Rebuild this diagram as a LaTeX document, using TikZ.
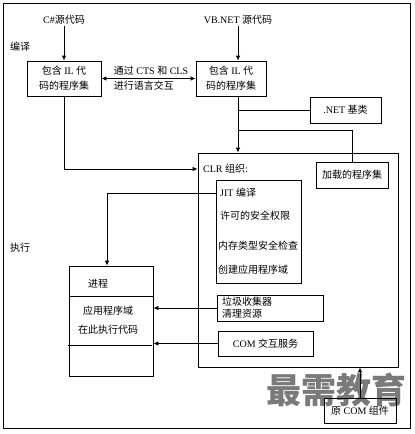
\documentclass[tikz,border=0pt]{standalone}
\usepackage{fontspec}
\setmainfont{Liberation Serif}
\newfontfamily\cjk{Noto Sans CJK SC}
\usetikzlibrary{arrows.meta}

\tikzset{
  box/.style={draw, line width=0.8pt, inner sep=0pt, align=center},
  txt/.style={font=\fontsize{10}{15}\selectfont, inner sep=1pt},
  arr/.style={-{Latex[length=5pt,width=4.5pt]}, line width=0.8pt},
  ln/.style={line width=0.8pt},
}

\begin{document}
\begin{tikzpicture}[x=1pt, y=-1pt, every node/.style={txt}]
			\useasboundingbox (0,0) rectangle (415,434);
			% watermark
			\node[text=black!52, font=\fontsize{35}{35}\selectfont\cjk\bfseries] (mark) at (336,390) {最需教育};
			% frame
			\draw[ln] (3,3) rectangle (410,428);
			\node (bianyi) at (20,47) {\cjk 编译};
			\node (zhixing) at (20,248) {\cjk 执行};
			% sources
			\node (cssrc) at (64,20) {C\#{\cjk 源代码}};
			\node (vbsrc) at (238,20) {VB.NET {\cjk 源代码}};
			\node[box, minimum width=74pt, minimum height=35pt] (asm1) at (64,78.5) {{\cjk 包含} IL {\cjk 代}\\{\cjk 码的程序集}};
			\node[box, minimum width=70pt, minimum height=35pt] (asm2) at (231,78.5) {{\cjk 包含} IL {\cjk 代}\\{\cjk 码的程序集}};
			\node[align=left] (cts) at (151,78) {{\cjk 通过} CTS {\cjk 和} CLS\\{\cjk 进行语言交互}};
			\node[box, minimum width=71pt, minimum height=26pt] (netlib) at (345.5,110) {.NET {\cjk 基类}};
			\node[box, minimum width=72pt, minimum height=26pt] (loaded) at (352,175) {\cjk 加载的程序集};
			% CLR
			\node[box, minimum width=200pt, minimum height=214pt] (clr) at (298,260) {};
			\node[anchor=west] (clrlbl) at (202,169) {CLR\ {\cjk 组织}:};
			\node[box, minimum width=85pt, minimum height=103pt] (jit) at (258.5,231.5) {};
			\node[anchor=west] (jitlbl) at (219,193) {JIT {\cjk 编译}};
			\node[anchor=west] (perm) at (219,216) {\cjk 许可的安全权限};
			\node[anchor=west] (check) at (217,246) {\cjk 内存类型安全检查};
			\node[anchor=west] (domain) at (217,270) {\cjk 创建应用程序域};
			\node[box, minimum width=106pt, minimum height=26pt] (gc) at (270,308) {};
			\node[anchor=west, align=left] (gclbl) at (221,308) {{\cjk 垃圾收集器}\\[-3pt]{\cjk 清理资源}};
			\node[box, minimum width=95pt, minimum height=25pt] (com) at (265.5,343.5) {COM {\cjk 交互服务}};
			\node[box, minimum width=72pt, minimum height=25pt] (orig) at (360,410.5) {{\cjk 原} COM {\cjk 组件}};
			% process
			\node[box, minimum width=84pt, minimum height=110pt] (proc) at (111,321) {};
			\node (proclbl) at (98,284) {\cjk 进程};
			\node (appdom) at (108,311) {\cjk 应用程序域};
			\node (runcode) at (108,330) {\cjk 在此执行代码};
			\draw[ln] (proc.west |- 0,296) -- (proc.east |- 0,296);
			\draw[ln] (68,345.5) -- (152,345.5);
			% connectors
			\draw[arr] (cssrc) -- (asm1);
			\draw[arr] (vbsrc) -- (vbsrc |- asm2.north);
			\draw[{Latex[length=5pt,width=4.5pt]}-{Latex[length=5pt,width=4.5pt]}, ln] (asm1) -- (asm2);
			\draw[arr] (asm1.south) |- (clr.west |- clrlbl);
			\draw[arr] (vbsrc |- asm2.south) -- (vbsrc |- clr.north);
			\draw[ln] (vbsrc |- netlib) -- (netlib.west);
			\coordinate (split) at (238,130);
			\draw[ln] (split) -| (loaded.north);
			\draw[arr] (jit.west |- jitlbl) -| ([xshift=-4pt]proc.north);
			\draw[arr] (gc.west) -- (gc.west -| proc.east);
			\draw[arr] (com.west) -- (com.west -| proc.east);
			\draw[arr] (orig.north) -- (orig.north |- clr.south);
		\end{tikzpicture}
\end{document}
